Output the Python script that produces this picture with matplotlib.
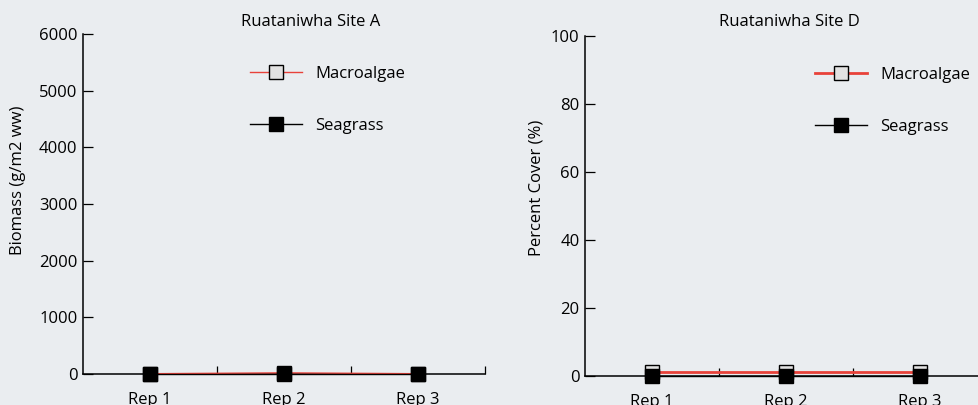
import matplotlib
matplotlib.use("Agg")
import matplotlib.pyplot as plt

# data
reps = ["Rep 1", "Rep 2", "Rep 3"]
biomass_macroalgae = [5, 20, 5]      # g/m2 ww, Site A
biomass_seagrass = [0, 0, 0]
cover_macroalgae = [1, 1, 1]         # %, Site D
cover_seagrass = [0, 0, 0]

bg = "#eaedf0"
red = "#e8423a"
plt.rcParams["font.family"] = ["Open Sans", "DejaVu Sans"]
plt.rcParams["font.size"] = 12

fig = plt.figure(figsize=(9.79, 4.05), dpi=100, facecolor=bg)
W, H = 979, 405


def make_axes(x0, x1, ytop, ybot):
    ax = fig.add_axes([x0 / W, (H - ybot) / H, (x1 - x0) / W, (ybot - ytop) / H])
    ax.set_facecolor(bg)
    for s in ["top", "right"]:
        ax.spines[s].set_visible(False)
    for s in ["left", "bottom"]:
        ax.spines[s].set_linewidth(1.1)
    ax.set_xlim(0, 3)
    ax.set_xticks([1, 2, 3])
    ax.set_xticklabels([])
    ax.set_xticks([0.5, 1.5, 2.5], minor=True)
    ax.set_xticklabels(reps, minor=True)
    ax.tick_params(axis="x", which="major", direction="in", length=6, width=0.9)
    ax.tick_params(axis="x", which="minor", length=0, pad=13)
    ax.tick_params(axis="y", direction="in", length=7, width=0.9, pad=4)
    return ax


def draw(ax, macro, sea, lw_macro):
    x = [0.5, 1.5, 2.5]
    ax.plot(x, macro, color=red, lw=lw_macro, marker="s", ms=10,
            mfc="#e2e2e2", mec="black", mew=1.0, label="Macroalgae",
            clip_on=False, zorder=3)
    ax.plot(x, sea, color="black", lw=1.0, marker="s", ms=10,
            mfc="black", mec="black", label="Seagrass",
            clip_on=False, zorder=4)


# left panel: biomass, Site A
ax1 = make_axes(83, 485, 34, 374)
draw(ax1, biomass_macroalgae, biomass_seagrass, 1.0)
ax1.set_ylim(0, 6000)
ax1.set_yticks(range(0, 6001, 1000))
fig.text(18 / W, (H - 180) / H, "Biomass (g/m2 ww)", rotation=90,
         ha="center", va="center")
fig.text(311 / W, (H - 22) / H, "Ruataniwha Site A", ha="center", va="center")
ax1.legend(loc="center left", bbox_to_anchor=(250 / W, (H - 100) / H),
           bbox_transform=fig.transFigure, frameon=False, handlelength=3.1,
           handletextpad=0.8, labelspacing=2.15, borderpad=0, borderaxespad=0)

# right panel: percent cover, Site D (runs off the right edge)
ax2 = make_axes(585, 987, 36, 375.6)
draw(ax2, cover_macroalgae, cover_seagrass, 2.0)
ax2.set_ylim(0, 100)
ax2.set_yticks(range(0, 101, 20))
fig.text(537 / W, (H - 188) / H, "Percent Cover (%)", rotation=90,
         ha="center", va="center")
fig.text(789 / W, (H - 22) / H, "Ruataniwha Site D", ha="center", va="center")
ax2.legend(loc="center left", bbox_to_anchor=(815 / W, (H - 101) / H),
           bbox_transform=fig.transFigure, frameon=False, handlelength=3.1,
           handletextpad=0.8, labelspacing=2.15, borderpad=0, borderaxespad=0)

fig.savefig("out.png", dpi=100, facecolor=bg)
